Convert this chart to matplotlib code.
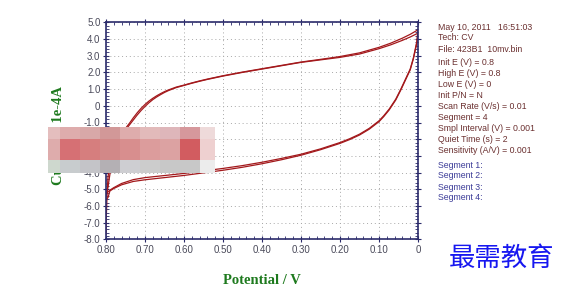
import numpy as np
import matplotlib
matplotlib.use('Agg')
import matplotlib.pyplot as plt
from matplotlib.ticker import MultipleLocator, FixedLocator

# CV data (potential in V, current in 1e-4 A)
# cycle 1, scan 0.8 -> 0 (upper branch)
v_up1 = [0.800, 0.799, 0.797, 0.795, 0.790, 0.780, 0.770, 0.760, 0.750, 0.745,
         0.740, 0.730, 0.720, 0.710, 0.700, 0.690, 0.680, 0.670, 0.660, 0.650,
         0.640, 0.620, 0.600, 0.580, 0.560, 0.540, 0.520, 0.500, 0.450, 0.400,
         0.350, 0.300, 0.250, 0.200, 0.150, 0.100, 0.070, 0.040, 0.020, 0.000]
i_up1 = [-7.7, -6.5, -5.2, -4.3, -3.4, -2.6, -2.05, -1.65, -1.35, -1.2,
         -1.05, -0.72, -0.42, -0.15, 0.08, 0.28, 0.45, 0.6, 0.73, 0.85,
         0.95, 1.12, 1.24, 1.37, 1.49, 1.6, 1.7, 1.8, 2.02, 2.22,
         2.42, 2.62, 2.78, 2.95, 3.17, 3.5, 3.75, 4.05, 4.28, 4.55]
# cycle 1, scan 0 -> 0.8 (lower branch)
v_dn1 = [0.000, 0.003, 0.012, 0.020, 0.029, 0.044, 0.057, 0.074, 0.088, 0.100,
         0.125, 0.150, 0.175, 0.200, 0.250, 0.300, 0.350, 0.400, 0.450, 0.500,
         0.600, 0.700, 0.730, 0.760, 0.780, 0.790, 0.797, 0.800]
i_dn1 = [4.55, 3.85, 2.85, 2.2, 1.75, 1.0, 0.4, -0.2, -0.6, -0.9,
         -1.35, -1.7, -1.97, -2.2, -2.58, -2.9, -3.15, -3.38, -3.58, -3.75,
         -4.05, -4.3, -4.42, -4.65, -4.9, -5.05, -5.2, -5.35]
# cycle 2, scan 0.8 -> 0
v_up2 = [0.800, 0.795, 0.790, 0.780, 0.770, 0.760, 0.750, 0.745, 0.740, 0.730,
         0.720, 0.710, 0.700, 0.690, 0.680, 0.670, 0.660, 0.650, 0.640, 0.620,
         0.600, 0.580, 0.560, 0.540, 0.520, 0.500, 0.450, 0.400, 0.350, 0.300,
         0.250, 0.200, 0.150, 0.100, 0.070, 0.040, 0.020, 0.000]
i_up2 = [-5.35, -4.9, -4.1, -3.05, -2.3, -1.8, -1.45, -1.3, -1.15, -0.85,
         -0.55, -0.28, -0.04, 0.18, 0.37, 0.53, 0.67, 0.8, 0.91, 1.09,
         1.22, 1.35, 1.47, 1.58, 1.68, 1.78, 2.0, 2.2, 2.4, 2.6,
         2.75, 2.9, 3.1, 3.42, 3.65, 3.92, 4.12, 4.35]
# cycle 2, scan 0 -> 0.8
v_dn2 = [0.000, 0.003, 0.012, 0.020, 0.029, 0.044, 0.057, 0.074, 0.088, 0.100,
         0.125, 0.150, 0.175, 0.200, 0.250, 0.300, 0.350, 0.400, 0.450, 0.500,
         0.600, 0.700, 0.730, 0.760, 0.780, 0.790, 0.795, 0.800]
i_dn2 = [4.35, 3.75, 2.8, 2.15, 1.7, 0.95, 0.35, -0.25, -0.65, -0.95,
         -1.4, -1.75, -2.02, -2.25, -2.63, -2.96, -3.23, -3.47, -3.68, -3.86,
         -4.17, -4.43, -4.53, -4.73, -4.95, -5.1, -5.5, -5.6]

x_ticks = [0.8, 0.7, 0.6, 0.5, 0.4, 0.3, 0.2, 0.1, 0.0]
x_labels = ['0.80', '0.70', '0.60', '0.50', '0.40', '0.30', '0.20', '0.10', '0']
y_ticks = list(range(5, -9, -1))
y_labels = ['0' if t == 0 else '%.1f' % t for t in y_ticks]

info_lines = ['May 10, 2011   16:51:03', 'Tech: CV', 'File: 423B1  10mv.bin',
              None,
              'Init E (V) = 0.8', 'High E (V) = 0.8', 'Low E (V) = 0',
              'Init P/N = N', 'Scan Rate (V/s) = 0.01', 'Segment = 4',
              'Smpl Interval (V) = 0.001', 'Quiet Time (s) = 2',
              'Sensitivity (A/V) = 0.001']
seg_lines = ['Segment 1:', 'Segment 2:', 'Segment 3:', 'Segment 4:']

W, H = 569, 291
fig = plt.figure(figsize=(W / 100, H / 100), dpi=100)
ax = fig.add_axes([106 / W, 1 - 239.4 / H, 312 / W, 217.1 / H])

curve_col = '#a3191c'
for v, i in [(v_up1, i_up1), (v_dn1, i_dn1), (v_up2, i_up2), (v_dn2, i_dn2)]:
    ax.plot(v, i, color=curve_col, lw=0.9)

ax.set_xlim(0.8, 0)
ax.set_ylim(-8, 5)
ax.xaxis.set_major_locator(FixedLocator(x_ticks))
ax.set_xticklabels(x_labels)
ax.yaxis.set_major_locator(FixedLocator(y_ticks))
ax.set_yticklabels(y_labels)
ax.xaxis.set_minor_locator(MultipleLocator(0.02))
ax.yaxis.set_minor_locator(MultipleLocator(0.2))
ax.grid(True, which='major', color='#a8a8a8', linestyle=(0, (1, 3)), lw=0.7)

spine_col = '#2b2b6b'
for s in ax.spines.values():
    s.set_color(spine_col)
    s.set_linewidth(1.2)
ax.tick_params(which='major', direction='inout', length=4, width=0.8,
               color=spine_col, labelsize=7, labelcolor='#4a4a5a',
               top=True, right=True, pad=2)
ax.tick_params(which='minor', direction='in', length=2, width=0.6,
               color=spine_col, top=True, right=True)
for lab in ax.get_xticklabels() + ax.get_yticklabels():
    lab.set_family('Liberation Sans')

lab_font = dict(family='Liberation Serif', weight='bold', size=10.5, color='#1e7a1e')
ax.set_xlabel('Potential / V', **lab_font)
ax.xaxis.set_label_coords(0.5, -0.16)
ax.set_ylabel('Current / 1e-4A', **lab_font)
ax.yaxis.set_label_coords(-0.13, 0.48)

# info block on the right
y = 1 - 27 / H
for line in info_lines:
    if line is None:
        y -= 2.5 / H
        continue
    fig.text(438 / W, y, line, fontsize=6.3, color='#6b3030',
             family='Liberation Sans', va='center')
    y -= 11 / H
y = 1 - 165 / H
for line in seg_lines:
    fig.text(438 / W, y, line, fontsize=6.3, color='#3c3c98',
             family='Liberation Sans', va='center')
    y -= 11 / H

fig.text(502 / W, 1 - 258 / H, '最需教育', fontsize=19, color='#1717f0',
         family=['Noto Sans CJK SC', 'DejaVu Sans'], ha='center', va='center')

# pixelated privacy patch over part of the y label
top_row = [(228, 190, 190), (222, 172, 172), (216, 168, 168), (210, 152, 152),
           (222, 172, 172), (226, 186, 186), (222, 182, 186), (214, 152, 156),
           (238, 218, 218)]
mid_row = [(222, 172, 172), (214, 112, 116), (214, 126, 126), (210, 136, 136),
           (216, 142, 142), (220, 156, 156), (220, 162, 162), (210, 92, 96),
           (238, 208, 208)]
bot_row = [(206, 216, 206), (200, 204, 206), (196, 196, 200), (180, 176, 180),
           (206, 206, 210), (204, 204, 204), (200, 200, 200), (200, 200, 200),
           (236, 236, 236)]
col_w = [12, 20, 20, 20, 20, 20, 20, 20, 15]
row_h = [12, 21, 13]
rows = []
for row, h in zip([top_row, mid_row, bot_row], row_h):
    line = np.concatenate([np.tile(np.array(c, dtype=np.uint8), (w, 1))
                           for c, w in zip(row, col_w)])
    rows.append(np.tile(line, (h, 1, 1)))
patch = np.concatenate(rows)
bax = fig.add_axes([48 / W, 1 - 173 / H, sum(col_w) / W, sum(row_h) / H], zorder=5)
bax.imshow(patch, aspect='auto', interpolation='nearest')
bax.axis('off')

fig.savefig('out.png', dpi=100)
